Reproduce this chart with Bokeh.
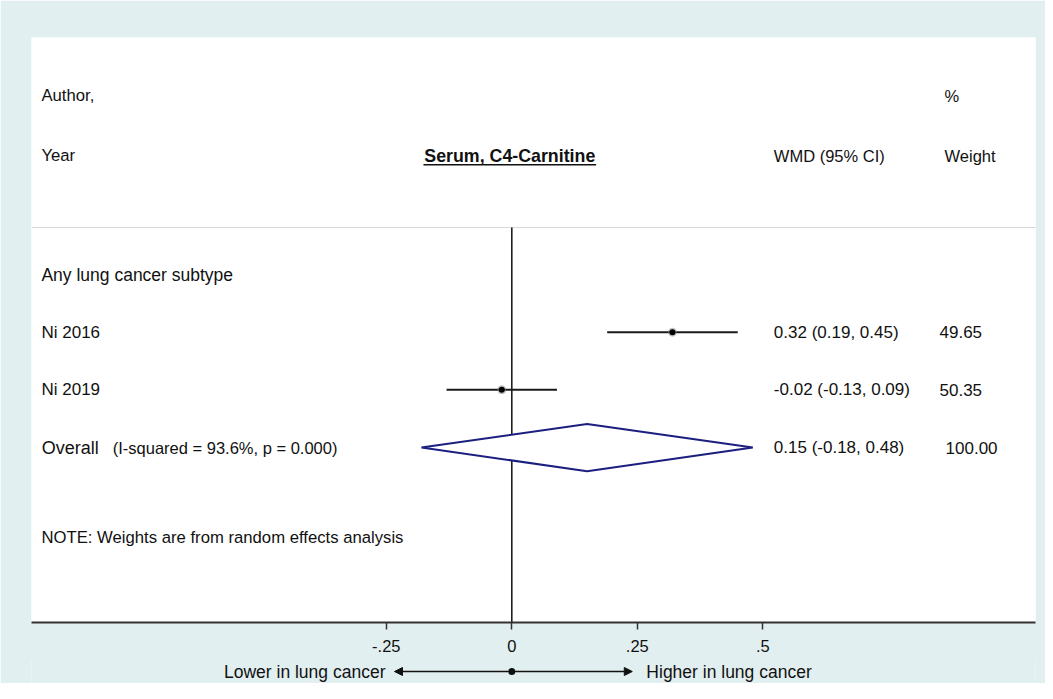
from bokeh.plotting import figure
from bokeh.layouts import column
from bokeh.models import Range1d, FixedTicker, Arrow, NormalHead, ColumnDataSource
from bokeh.core.properties import value
from bokeh.embed import file_html
from bokeh.resources import INLINE

# ---- data ----
title = "Serum, C4-Carnitine"
subgroup = "Any lung cancer subtype"
studies = ["Ni 2016", "Ni 2019"]
effects = [0.32, -0.02]
ci_low = [0.19, -0.13]
ci_high = [0.45, 0.09]
weights = [49.65, 50.35]
overall_effect = 0.15
overall_low = -0.18
overall_high = 0.48
overall_weight = 100.00
i_squared = 93.6
p_value = 0.000
tick_values = [-0.25, 0, 0.25, 0.5]
tick_labels = ["-.25", "0", ".25", ".5"]
note = "NOTE: Weights are from random effects analysis"
left_label = "Lower in lung cancer"
right_label = "Higher in lung cancer"
arrow_left_end = -0.2337
arrow_right_end = 0.240

FONT = "Liberation Sans"
BG = "#e2eff0"
TXT = "#111111"
XMIN, XMAX = -0.9568, 1.0432
YBOT, YTOP = 7.034, -3.110

xr = Range1d(XMIN, XMAX)
p = figure(width=1045, height=660, output_backend="svg", toolbar_location=None,
           x_range=xr, y_range=Range1d(YBOT, YTOP),
           min_border_left=31, min_border_right=10, min_border_top=37, min_border_bottom=38,
           y_axis_location=None, background_fill_color="white",
           border_fill_color=BG, outline_line_color=None)
p.grid.visible = False

# rows
sub_row = 1
study_rows = [2, 3]
overall_row = 4
hdr1, hdr2 = -2.104, -1.063
note_row = 5.56
sep_row = 0.185

# columns (x in data units)
col_label = -0.937
col_ci = 0.522
col_w = 0.852
col_w_overall = 0.864

# header separator & zero line
p.segment(x0=[XMIN], x1=[XMAX], y0=[sep_row], y1=[sep_row], line_color="#d8d8d8", line_width=1)
p.segment(x0=[0], x1=[0], y0=[sep_row], y1=[YBOT], line_color="#111111", line_width=1.5)

def txt(fig, x, y, s, size="17px", align="left", bold=False, color=TXT):
    fig.text(x=[x], y=[y], text=[s], text_font=value(FONT), text_font_size=size,
             text_align=align, text_baseline="middle", text_color=color,
             text_font_style="bold" if bold else "normal")

# header text
txt(p, col_label, hdr1, "Author,", "16.7px")
txt(p, col_label, hdr2, "Year", "16.7px")
txt(p, -0.004, hdr2, title, "17.8px", align="center", bold=True)
p.segment(x0=[-0.176], x1=[0.168], y0=[-0.905], y1=[-0.905], line_color=TXT, line_width=1.5)
txt(p, col_ci, hdr2, "WMD (95% CI)", "16.5px")
txt(p, 0.862, hdr1, "%", "16.5px")
txt(p, 0.862, hdr2, "Weight", "16.5px")

txt(p, col_label, sub_row, subgroup, "17.5px")

# studies
src = ColumnDataSource(dict(
    y=study_rows, eff=effects, lo=ci_low, hi=ci_high, name=studies,
    ci=[f"{e:.2f} ({l:.2f}, {h:.2f})" for e, l, h in zip(effects, ci_low, ci_high)],
    w=[f"{w:.2f}" for w in weights],
))
p.segment(x0="lo", x1="hi", y0="y", y1="y", source=src, line_color="#1a1a1a", line_width=2)
p.scatter(x="eff", y="y", source=src, size=9, fill_color="#888888", fill_alpha=0.5, line_color=None)
p.scatter(x="eff", y="y", source=src, size=6, fill_color="#000000", line_color=None)
for col, x in (("name", col_label), ("ci", col_ci), ("w", col_w)):
    p.text(x=x, y="y", text=col, source=src, text_font=value(FONT), text_font_size="17px",
           text_baseline="middle", text_color=TXT)

# overall diamond
h = 0.41
p.patch(x=[overall_low, overall_effect, overall_high, overall_effect, overall_low],
        y=[overall_row, overall_row - h, overall_row, overall_row + h, overall_row],
        fill_color="white", line_color="#1c1f80", line_width=2)
txt(p, -0.9366, overall_row, "Overall", "18px")
txt(p, -0.795, overall_row, f"(I-squared = {i_squared:.1f}%, p = {p_value:.3f})", "16.5px")
txt(p, col_ci, overall_row, f"{overall_effect:.2f} ({overall_low:.2f}, {overall_high:.2f})", "17px")
txt(p, col_w_overall, overall_row, f"{overall_weight:.2f}", "17px")

txt(p, col_label, note_row, note, "16.7px")

# x axis
ax = p.xaxis[0]
ax.ticker = FixedTicker(ticks=tick_values)
ax.major_label_overrides = {v: l for v, l in zip(tick_values, tick_labels)}
ax.minor_tick_line_color = None
ax.axis_line_color = "#333333"
ax.axis_line_width = 2
ax.major_tick_line_color = "#333333"
ax.major_tick_line_width = 1.5
ax.major_tick_in = 0
ax.major_tick_out = 7
ax.major_label_standoff = 10
ax.major_label_text_font = FONT
ax.major_label_text_font_size = "16.5px"
ax.major_label_text_color = TXT

# bottom strip with direction arrows
b = figure(width=1045, height=24, output_backend="svg", toolbar_location=None,
           x_range=xr, y_range=Range1d(0, 24),
           min_border_left=31, min_border_right=10, min_border_top=0, min_border_bottom=0,
           x_axis_location=None, y_axis_location=None,
           background_fill_color=BG, border_fill_color=BG, outline_line_color=None)
b.margin = (-1, 0, 0, 0)
b.grid.visible = False
ay = 12
for xe in (arrow_left_end, arrow_right_end):
    b.add_layout(Arrow(x_start=0, y_start=ay, x_end=xe, y_end=ay,
                       line_color="#111111", line_width=1.5,
                       end=NormalHead(size=8, fill_color="#111111", line_color="#111111")))
b.scatter(x=[0], y=[ay], size=7, fill_color="#111111", line_color=None)
txt(b, arrow_left_end - 0.018, ay, left_label, "17.5px", align="right")
txt(b, arrow_right_end + 0.028, ay, right_label, "17.5px", align="left")

layout = column(p, b, spacing=0)
open("out.html", "w").write(file_html(layout, INLINE))
